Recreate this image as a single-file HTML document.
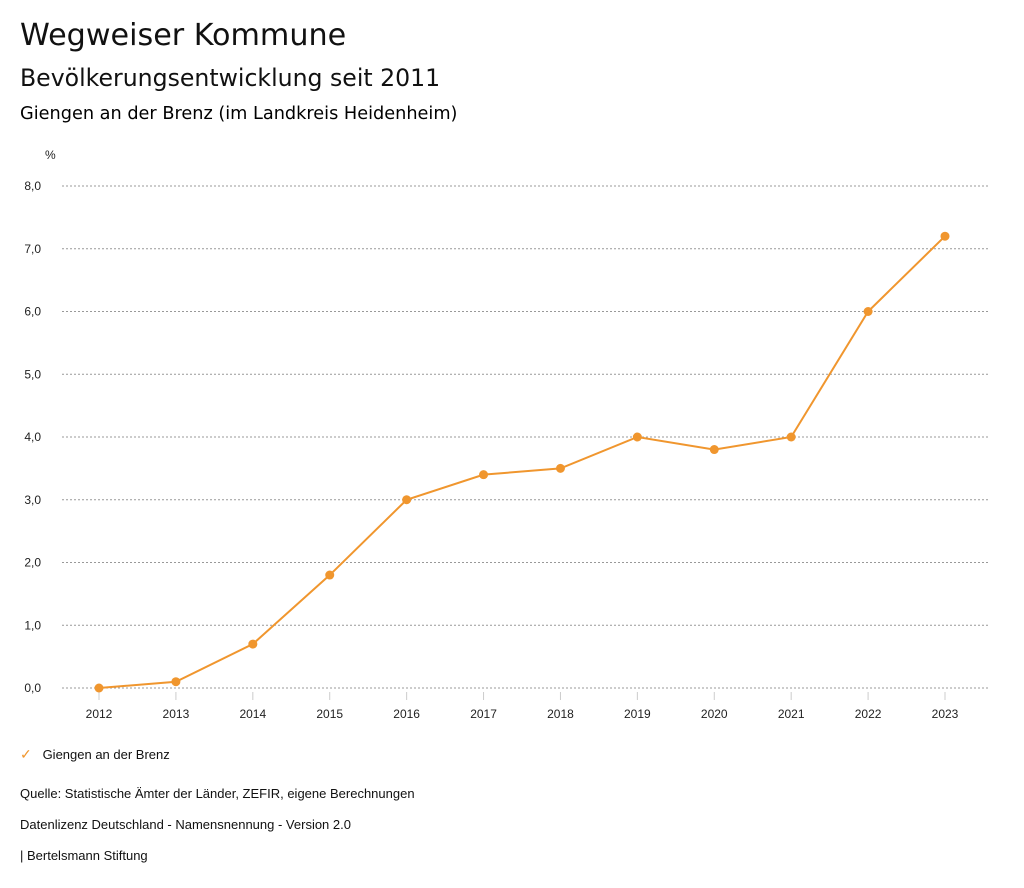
<!DOCTYPE html>
<html><head><meta charset="utf-8">
<style>
body{margin:0;width:1024px;height:888px;background:#fff;font-family:"Liberation Sans",sans-serif;color:#111;overflow:hidden;position:relative}
.t{position:absolute;left:20px;white-space:nowrap}
</style></head>
<body>
<div class="t" style="top:18px;font-family:'DejaVu Sans',sans-serif;font-size:30.2px">Wegweiser Kommune</div>
<div class="t" style="top:64px;font-family:'DejaVu Sans',sans-serif;font-size:23.6px">Bevölkerungsentwicklung seit 2011</div>
<div class="t" style="top:104px;font-family:'DejaVu Sans',sans-serif;font-size:17.7px;color:#000">Giengen an der Brenz (im Landkreis Heidenheim)</div>
<svg id="chart" width="1024" height="888" style="position:absolute;left:0;top:0" font-family="Liberation Sans, sans-serif">
<text x="45" y="159" font-size="12" fill="#222">%</text>
<g id="grid"></g><g id="xt"></g><g id="line"></g>
</svg>
<div class="t" style="top:746px;font-size:13px"><span style="color:#f0962e;font-size:14px">✓</span>&nbsp;&nbsp;&nbsp;Giengen an der Brenz</div>
<div class="t" style="top:786px;font-size:13px">Quelle: Statistische Ämter der Länder, ZEFIR, eigene Berechnungen</div>
<div class="t" style="top:817px;font-size:13px">Datenlizenz Deutschland - Namensnennung - Version 2.0</div>
<div class="t" style="top:848px;font-size:13px">| Bertelsmann Stiftung</div>
<script>
const years=["2012","2013","2014","2015","2016","2017","2018","2019","2020","2021","2022","2023"];
const values=[0,0.1,0.7,1.8,3.0,3.4,3.5,4.0,3.8,4.0,6.0,7.2];
const yTicks=[0,1,2,3,4,5,6,7,8];
const yTickLabels=["0,0","1,0","2,0","3,0","4,0","5,0","6,0","7,0","8,0"];
const NS="http://www.w3.org/2000/svg";
const xs=i=>99+i*(945-99)/(years.length-1);
const ys=v=>688-v*(688-186)/8;
function mk(tag,attrs,parent){const e=document.createElementNS(NS,tag);for(const k in attrs)e.setAttribute(k,attrs[k]);parent.appendChild(e);return e;}
const grid=document.getElementById('grid');
yTicks.forEach((t,i)=>{
 const l=mk('line',{x1:62,x2:990,y1:ys(t),y2:ys(t),stroke:'#999','stroke-dasharray':'2,2','stroke-width':1},grid);
 
 
 const tx=mk('text',{x:41,y:ys(t)+4,'text-anchor':'end','font-size':12,fill:'#222'},grid);
 tx.textContent=yTickLabels[i];
 
 
});
const xt=document.getElementById('xt');
years.forEach((y,i)=>{
 const l=mk('line',{x1:xs(i),x2:xs(i),y1:692,y2:700,stroke:'#ccc'},xt);
 
 
 const tx=mk('text',{x:xs(i),y:718,'text-anchor':'middle','font-size':12,fill:'#222'},xt);
 tx.textContent=y;
 
 
});
const lg=document.getElementById('line');
const p=mk('polyline',{points:values.map((v,i)=>xs(i)+','+ys(v)).join(' '),fill:'none',stroke:'#f0962e','stroke-width':2},lg);


values.forEach((v,i)=>{
 const c=mk('circle',{cx:xs(i),cy:ys(v),r:4.5,fill:'#f0962e'},lg);
 
 
});
</script>
</body></html>
